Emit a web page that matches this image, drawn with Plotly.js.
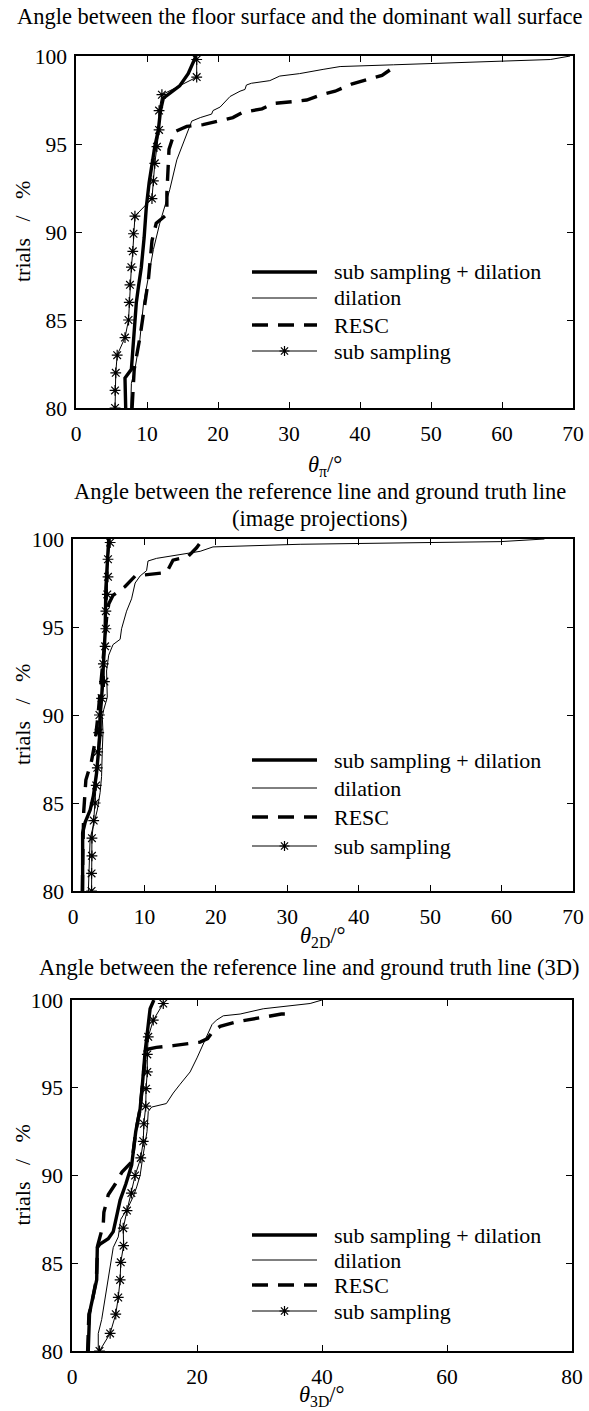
<!DOCTYPE html>
<html>
<head>
<meta charset="utf-8">
<script src="https://cdn.plot.ly/plotly-3.0.1.min.js"></script>
<style>html,body{margin:0;padding:0;background:#fff;}#chart{width:589px;height:1411px;}</style>
</head>
<body>
<div id="chart"></div>
<script>
// ---------------- data ----------------
const seriesNames = ["sub sampling + dilation", "dilation", "RESC", "sub sampling"];

const titles = [
  ["Angle between the floor surface and the dominant wall surface"],
  ["Angle between the reference line and ground truth line", "(image projections)"],
  ["Angle between the reference line and ground truth line (3D)"]
];
const xTitles = ["<i>θ</i><sub>π</sub>/°", "<i>θ</i><sub>2D</sub>/°", "<i>θ</i><sub>3D</sub>/°"];
const yTitle = "trials \u2002/\u2002 %";
const xTicks1 = [0, 10, 20, 30, 40, 50, 60, 70];
const xTicks3 = [0, 20, 40, 60, 80];
const yTicks = [80, 85, 90, 95, 100];

// Plot 1
const p1SubDilX = [7.0, 6.9, 7.8, 8.1, 8.5, 8.8, 9.2, 9.6, 9.9, 10.3, 10.7, 11.1, 11.6, 11.9, 12.3, 14.6, 15.8, 16.9];
const p1SubDilY = [80, 81.7, 82.2, 83.9, 86.0, 86.9, 88.0, 89.7, 91.4, 92.8, 93.9, 94.85, 95.8, 96.9, 97.6, 98.3, 99.0, 100];
const p1DilX = [7.7, 7.8, 8.3, 9.0, 9.5, 10.2, 10.9, 11.8, 13.2, 14.2, 15.4, 16.3, 17.5, 19.1, 19.3, 20.3, 21.7, 23.1, 23.8, 24.0, 24.7, 27.3, 28.7, 31.5, 34.8, 37.2, 44.7, 66.8, 69.6];
const p1DilY = [80, 81.4, 82.2, 83.9, 85.9, 87.5, 89.0, 90.5, 92.4, 94.1, 95.4, 96.3, 96.5, 96.7, 96.9, 97.1, 97.7, 98.0, 98.1, 98.35, 98.45, 98.6, 98.86, 99.0, 99.24, 99.4, 99.5, 99.8, 100];
const p1RescX = [7.9, 8.2, 9.0, 9.6, 10.2, 10.7, 11.3, 12.8, 12.8, 13.1, 13.9, 15.6, 17.9, 22.1, 23.5, 26.2, 27.8, 30.4, 32.5, 34.6, 36.5, 38.8, 40.7, 43.1, 44.9];
const p1RescY = [80, 82.2, 84.0, 85.8, 87.3, 89.5, 90.5, 91.0, 92.2, 94.7, 95.7, 96.0, 96.1, 96.5, 96.8, 97.0, 97.3, 97.4, 97.5, 97.8, 98.0, 98.4, 98.6, 98.9, 99.4];
const p1SubX = [5.5, 5.5, 5.6, 5.8, 6.9, 7.4, 7.5, 7.6, 7.8, 8.0, 8.1, 8.3, 10.7, 10.9, 11.1, 11.4, 11.7, 11.7, 12.1, 17.0, 17.0];
const p1SubY = [80, 81, 82, 83, 84, 85, 86, 87, 88, 88.9, 89.9, 90.9, 91.9, 92.9, 93.9, 94.85, 95.8, 96.9, 97.8, 98.8, 99.8];

// Plot 2
const p2SubDilX = [1.35, 1.35, 1.7, 2.4, 2.85, 3.3, 3.8, 3.8, 4.0, 4.25, 4.5, 4.6, 4.95, 5.0];
const p2SubDilY = [80, 83.3, 83.9, 84.6, 85.4, 86.7, 89.0, 90.0, 90.9, 92.8, 94.7, 97.2, 99.85, 100];
const p2DilX = [2.15, 2.2, 2.4, 2.85, 3.4, 3.8, 4.0, 4.1, 4.2, 4.1, 4.3, 4.8, 4.7, 5.0, 5.6, 6.6, 6.8, 7.5, 8.2, 8.7, 9.4, 10.3, 10.5, 11.7, 14.5, 17.8, 19.6, 23.4, 31.8, 50, 59.8, 66];
const p2DilY = [80, 81, 83, 83.7, 84.6, 85.6, 86.5, 88.0, 89, 89.9, 90.3, 91.0, 92.5, 93.4, 94.0, 94.3, 94.9, 95.9, 96.6, 97.5, 97.9, 98.2, 98.75, 98.9, 99.1, 99.3, 99.55, 99.6, 99.7, 99.8, 99.85, 100];
const p2RescX = [1.3, 1.3, 1.4, 1.5, 1.75, 1.8, 2.6, 3.1, 3.5, 4.0, 4.4, 4.7, 5.0, 5.6, 7.3, 8.7, 11.0, 13.1, 14.0, 16.1, 17.3, 17.8, 18.2];
const p2RescY = [80, 82, 82.7, 84.5, 85.6, 86.3, 87.4, 88.5, 90, 92, 94, 95.5, 96.3, 96.8, 97.3, 97.9, 98.0, 98.1, 98.8, 99.0, 99.5, 99.8, 100];
const p2SubX = [2.6, 2.6, 2.65, 2.65, 2.9, 3.1, 3.25, 3.4, 3.45, 3.6, 3.7, 4.0, 4.4, 4.25, 4.5, 4.6, 4.6, 4.8, 4.9, 4.9, 5.2];
const p2SubY = [80, 81, 82, 83, 84, 85, 86, 87, 87.9, 89, 90, 90.95, 91.9, 92.9, 93.9, 94.9, 95.9, 96.85, 97.85, 98.85, 99.8];

// Plot 3
const p3SubDilX = [2.6, 2.8, 3.0, 3.7, 3.95, 4.05, 4.5, 5.8, 6.6, 7.25, 7.7, 8.6, 9.55, 10.2, 10.9, 11.3, 11.7, 12.2, 12.5, 13.1];
const p3SubDilY = [80, 82.1, 82.5, 83.5, 84.05, 85.9, 86.1, 86.4, 86.8, 87.85, 88.6, 89.5, 90.6, 92.5, 93.8, 95.35, 97.05, 98.6, 99.5, 100];
const p3DilX = [4.2, 4.2, 4.75, 5.3, 5.8, 6.1, 6.6, 7.4, 7.8, 9.0, 9.8, 10.35, 10.9, 11.3, 12.0, 12.2, 12.75, 15.1, 16.2, 17.3, 18.9, 20.0, 20.75, 21.5, 22.4, 23.1, 24.2, 26.9, 30.6, 38.1, 40];
const p3DilY = [80, 81, 81.8, 83.1, 84.2, 85.0, 85.9, 86.5, 87.5, 88.2, 88.8, 89.35, 90.0, 91.0, 92.5, 93.65, 93.9, 94.1, 94.7, 95.2, 95.9, 96.7, 97.3, 97.8, 98.6, 98.85, 99.1, 99.2, 99.5, 99.8, 100];
const p3RescX = [2.5, 2.7, 3.1, 3.6, 3.9, 4.1, 5.0, 5.1, 5.8, 6.9, 8.0, 9.6, 10.2, 10.9, 11.3, 11.8, 12.2, 13.5, 16.2, 20.5, 21.7, 22.5, 23.7, 26.3, 27.9, 31.4, 33.5, 34.5];
const p3RescY = [80, 82.1, 82.6, 83.6, 84.1, 86.0, 87.2, 87.9, 88.9, 89.5, 90.2, 90.8, 92.5, 93.8, 95.35, 97.0, 97.2, 97.3, 97.4, 97.6, 97.8, 98.2, 98.5, 98.75, 98.85, 99.05, 99.2, 99.2];
const p3SubX = [4.4, 6.1, 7.0, 7.4, 7.7, 7.8, 8.25, 8.2, 8.8, 9.5, 10.1, 11.0, 11.4, 11.5, 11.8, 11.85, 12.05, 12.05, 12.2, 13.0, 14.6];
const p3SubY = [80, 81, 82.1, 83.05, 84.05, 85.05, 86, 87, 88, 89, 90, 91, 91.95, 92.95, 93.95, 94.95, 95.9, 96.9, 97.9, 98.85, 99.8];

// ---------------- layout helpers ----------------
const W = 589, H = 1411;
const FONT = "'Liberation Serif', 'Times New Roman', Times, serif";
const px = v => v / W;
const py = v => 1 - v / H;
const f = size => ({family: FONT, size: size, color: "black"});

// plot boxes in pixels: [left, right, top, bottom]
const boxes = [[76, 573, 56, 408], [73, 573, 539, 891], [72, 572, 1000, 1351]];
const xRanges = [[0, 70], [0, 70], [0, 80]];
const xTickSets = [xTicks1, xTicks1, xTicks3];
const titleCenters = [[299, [16]], [320, [492, 518]], [309, [967]]];
const xTitleY = [466, 937, 1396];
const legendRows = [[272, 298, 325, 351], [760, 788, 817, 846], [1235, 1260, 1285, 1311]];

const data = [
  [p1SubDilX, p1SubDilY, p1DilX, p1DilY, p1RescX, p1RescY, p1SubX, p1SubY],
  [p2SubDilX, p2SubDilY, p2DilX, p2DilY, p2RescX, p2RescY, p2SubX, p2SubY],
  [p3SubDilX, p3SubDilY, p3DilX, p3DilY, p3RescX, p3RescY, p3SubX, p3SubY]
];

const styles = [
  {mode: "lines", line: {color: "black", width: 3.4}},
  {mode: "lines", line: {color: "black", width: 1}},
  {mode: "lines", line: {color: "black", width: 3.4, dash: "16px,10px"}},
  {mode: "lines+markers", line: {color: "black", width: 1},
   marker: {symbol: "asterisk-open", size: 9, color: "black", line: {color: "black", width: 1.2}}}
];

const traces = [];
const layout = {
  width: W, height: H,
  margin: {l: 0, r: 0, t: 0, b: 0},
  paper_bgcolor: "white", plot_bgcolor: "white",
  showlegend: false,
  font: f(22),
  annotations: [], shapes: []
};

for (let i = 0; i < 3; i++) {
  const sfx = i === 0 ? "" : String(i + 1);
  const [l, r, t, b] = boxes[i];
  const d = data[i];
  for (let k = 0; k < 4; k++) {
    traces.push(Object.assign({
      type: "scatter", x: d[2 * k], y: d[2 * k + 1],
      xaxis: "x" + sfx, yaxis: "y" + sfx, name: seriesNames[k],
      hoverinfo: "skip", cliponaxis: true
    }, JSON.parse(JSON.stringify(styles[k]))));
  }
  const common = {
    showline: true, linecolor: "black", linewidth: 1.8, mirror: "ticks",
    ticks: "inside", ticklen: 6, tickwidth: 1, tickcolor: "black",
    showgrid: false, zeroline: false, fixedrange: true,
    tickfont: f(21.5)
  };
  layout["xaxis" + sfx] = Object.assign({}, common, {
    domain: [px(l), px(r)], anchor: "y" + sfx, range: xRanges[i],
    tickmode: "array", tickvals: xTickSets[i], ticktext: xTickSets[i].map(String),
    ticklabelstandoff: 5
  });
  layout["yaxis" + sfx] = Object.assign({}, common, {
    domain: [py(b), py(t)], anchor: "x" + sfx, range: [80, 100],
    tickmode: "array", tickvals: yTicks, ticktext: yTicks.map(String),
    ticklabelstandoff: 3
  });

  // titles
  const [tc, tys] = titleCenters[i];
  titles[i].forEach((txt, j) => {
    layout.annotations.push({text: txt, xref: "paper", yref: "paper", x: px(tc), y: py(tys[j]),
      xanchor: "center", yanchor: "middle", showarrow: false, font: f(22.5)});
  });
  // axis titles
  layout.annotations.push({text: xTitles[i], xref: "paper", yref: "paper", x: px((l + r) / 2), y: py(xTitleY[i]),
    xanchor: "center", yanchor: "middle", showarrow: false, font: f(22.5)});
  layout.annotations.push({text: yTitle, xref: "paper", yref: "paper", x: px(22), y: py((t + b) / 2),
    xanchor: "center", yanchor: "middle", textangle: -90, showarrow: false, font: f(22)});

  // legend (drawn as a key box inside each plot)
  legendRows[i].forEach((ry, k) => {
    const st = styles[k];
    layout.shapes.push({type: "line", xref: "paper", yref: "paper",
      x0: px(252), x1: px(317), y0: py(ry), y1: py(ry),
      line: {color: "black", width: st.line.width, dash: st.line.dash || "solid"}});
    if (k === 3) {
      layout.shapes.push({type: "path", xref: "paper", yref: "paper",
        xsizemode: "pixel", ysizemode: "pixel", xanchor: px(284.5), yanchor: py(ry),
        path: "M-5,0H5M0,-5V5M-3.6,-3.6L3.6,3.6M-3.6,3.6L3.6,-3.6",
        line: {color: "black", width: 1.2}});
    }
    layout.annotations.push({text: seriesNames[k], xref: "paper", yref: "paper", x: px(332), y: py(ry),
      xanchor: "left", yanchor: "middle", showarrow: false, font: f(22)});
  });
}

Plotly.newPlot("chart", traces, layout, {displayModeBar: false, staticPlot: true});
</script>
</body>
</html>
